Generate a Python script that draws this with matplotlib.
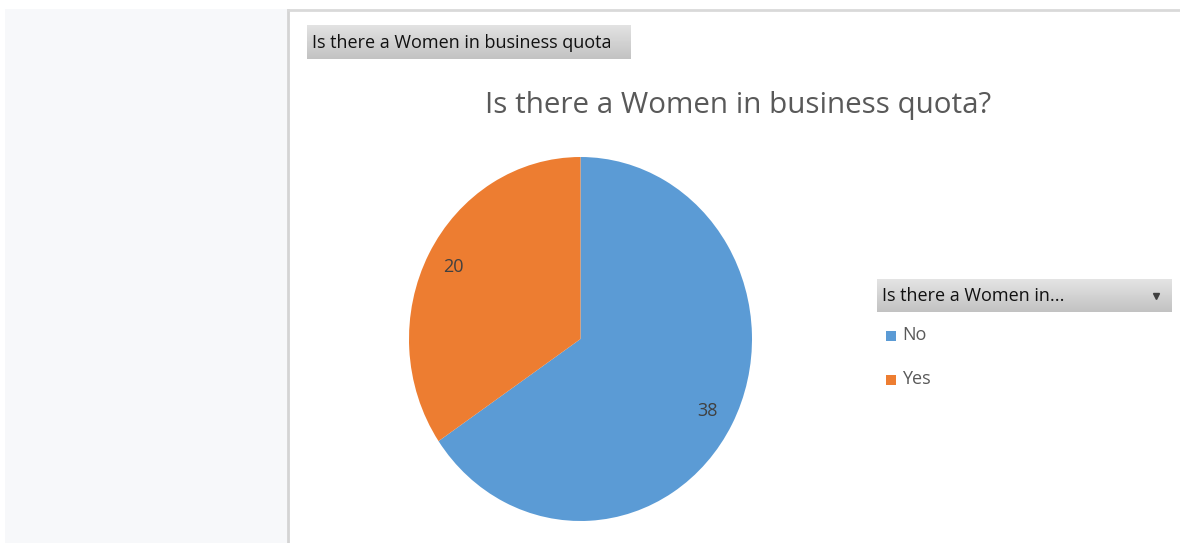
import numpy as np
import matplotlib
matplotlib.use("Agg")
import matplotlib.pyplot as plt
from matplotlib.patches import Rectangle

plt.rcParams['font.family'] = ['Open Sans', 'DejaVu Sans']

# data
labels = ['No', 'Yes']
values = [38, 20]
colors = ['#5B9BD5', '#ED7D31']
title = 'Is there a Women in business quota?'
field_name = 'Is there a Women in business quota'
legend_field = 'Is there a Women in...'

W, H = 1180, 543
fig = plt.figure(figsize=(W / 100, H / 100), dpi=100)
fig.patch.set_facecolor('white')


def px(x0, y0, x1, y1):
    # pixel box (top-left origin) -> figure fraction rect
    return [x0 / W, 1 - y1 / H, (x1 - x0) / W, (y1 - y0) / H]


def fx(x):
    return x / W


def fy(y):
    return 1 - y / H


# left pane and chart border
fig.add_artist(Rectangle((fx(5), 0), fx(287) - fx(5), fy(9), transform=fig.transFigure,
                         facecolor='#f7f8fa', edgecolor='none', zorder=0))
fig.add_artist(plt.Line2D([fx(288), fx(288)], [0, fy(10)], transform=fig.transFigure,
                          color='#d4d4d4', lw=2))
fig.add_artist(plt.Line2D([fx(288), 1], [fy(10), fy(10)], transform=fig.transFigure,
                          color='#d9d9d9', lw=2))


def field_button(x0, y0, x1, y1, text, size, arrow=False):
    bax = fig.add_axes(px(x0, y0, x1, y1))
    grad = np.linspace(0, 1, 64).reshape(-1, 1)
    cmap = matplotlib.colors.LinearSegmentedColormap.from_list('g', ['#e4e4e4', '#c2c2c2'])
    bax.imshow(grad, aspect='auto', cmap=cmap, extent=[0, 1, 0, 1], origin='upper')
    bax.set_xlim(0, 1)
    bax.set_ylim(0, 1)
    bax.axis('off')
    bax.text(5 / (x1 - x0), 0.48, text, fontsize=size, color='#111111',
             va='center', ha='left')
    if arrow:
        bax.plot([(x1 - x0 - 16) / (x1 - x0)], [0.5], marker='v', color='#404040',
                 markersize=4.5)


field_button(307, 25, 631, 59, field_name, 13)
field_button(877, 279, 1172, 312, legend_field, 13, arrow=True)

# title
fig.text(fx(738), fy(105), title, fontsize=21.3, color='#595959', ha='center', va='center')

# pie
ax = fig.add_axes(px(409, 157, 752, 521))
wedges, _ = ax.pie(values, colors=colors, startangle=90, counterclock=False,
                   radius=1, wedgeprops=dict(linewidth=0))
ax.set_aspect('auto')
ax.set_xlim(-1, 1)
ax.set_ylim(-1, 1)

# data labels
cum = np.cumsum([0] + values)
total = sum(values)
for i, v in enumerate(values):
    mid = 90 - 360 * (cum[i] + v / 2) / total
    r = 0.84
    ax.text(r * np.cos(np.radians(mid)), r * np.sin(np.radians(mid)), str(v),
            fontsize=13, color='#404040', ha='center', va='center')

# legend entries
for i, lab in enumerate(labels):
    y = 336 + 44 * i
    fig.add_artist(Rectangle((fx(886), fy(y + 5)), fx(896) - fx(886), fy(y - 5) - fy(y + 5),
                             transform=fig.transFigure, facecolor=colors[i], edgecolor='none'))
    fig.text(fx(902), fy(y - 1), lab, fontsize=13, color='#595959', ha='left', va='center')

fig.savefig('out.png', dpi=100)
